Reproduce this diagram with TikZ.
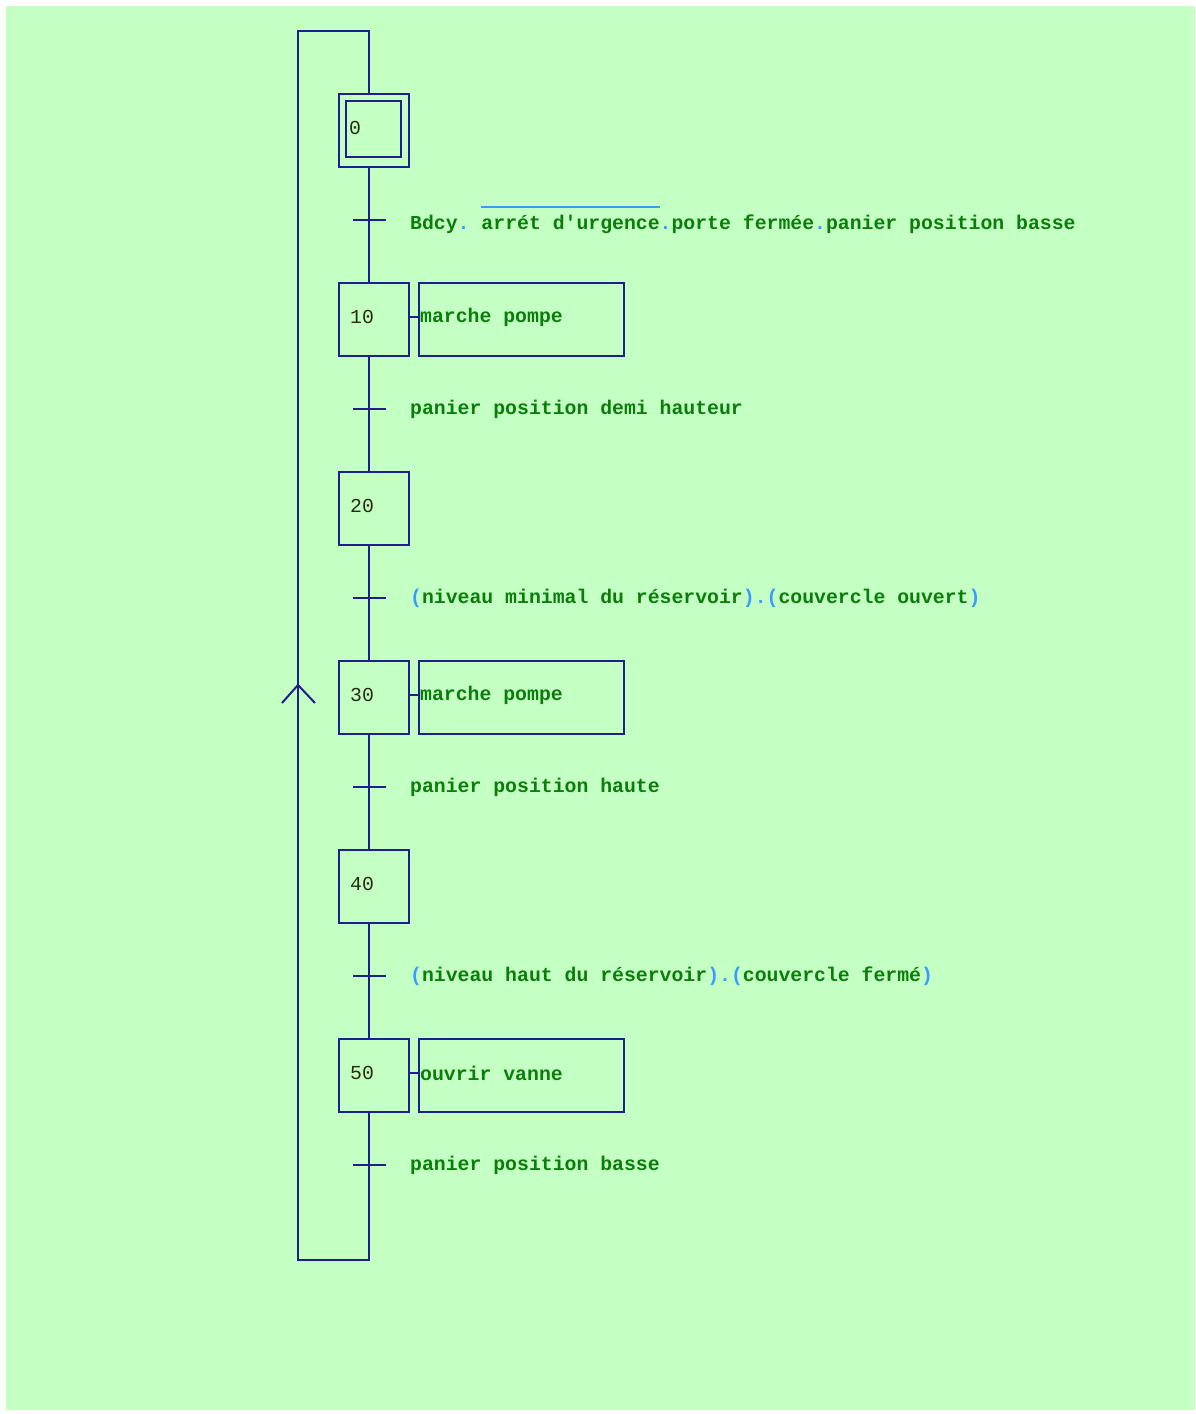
\documentclass[tikz,border=0pt]{standalone}
\usepackage{fontspec}
\setmonofont{Liberation Mono}
\usepackage{xcolor}
\usepackage{tikz}
\usetikzlibrary{positioning}

\definecolor{fond}{HTML}{C4FFC4}
\definecolor{trait}{HTML}{1E1E8C}
\definecolor{vert}{HTML}{0A7D0A}
\definecolor{bleu}{HTML}{3A9BFF}
\definecolor{num}{HTML}{2A2A10}

\newcommand{\pt}{\textcolor{bleu}{.}}
\newcommand{\po}{\textcolor{bleu}{(}}
\newcommand{\pf}{\textcolor{bleu}{)}}
\newcommand{\barre}[1]{\setbox0\hbox{#1}\rlap{\textcolor{bleu}{\rule[21pt]{\wd0}{2pt}}}\box0}

\begin{document}
\begin{tikzpicture}[x=1pt, y=-1pt, line cap=butt, line join=miter,
		lien/.style={draw=trait, line width=2pt},
		etape/.style={draw=trait, line width=2pt, rectangle, minimum width=70pt, minimum height=73pt, inner sep=0pt},
		action/.style={draw=trait, line width=2pt, rectangle, minimum width=205pt, minimum height=73pt, inner sep=0pt},
		txt/.style={font=\ttfamily\bfseries\fontsize{19.8}{22}\selectfont, text=vert, inner sep=0pt, anchor=west},
		numero/.style={font=\ttfamily\fontsize{19.8}{22}\selectfont, text=num, inner sep=0pt, anchor=west}]

		% fond
		\useasboundingbox (0,0) rectangle (1195,1414);
		\fill[white] (0,0) rectangle (1195,1414);
		\fill[fond] (6,6) rectangle (1195,1410);

		% etapes
		\node[etape] (s0) at (374,130.5) {};
		\node[draw=trait, line width=2pt, minimum width=55pt, minimum height=56pt, inner sep=0pt] (s0i) at (373.5,129) {};
		\node[numero, right=4pt of s0i.west, yshift=1pt] (n0) {0};

		\node[etape] (s10) at (374,319.5) {};
		\node[numero, right=12pt of s10.west, yshift=3pt] (n10) {10};
		\node[action] (a10) at (521.5,319.5) {};
		\node[txt, right=2pt of a10.west, yshift=2pt] (ta10) {marche pompe};

		\node[etape] (s20) at (374,508.5) {};
		\node[numero, right=12pt of s20.west, yshift=3pt] (n20) {20};

		\node[etape] (s30) at (374,697.5) {};
		\node[numero, right=12pt of s30.west, yshift=3pt] (n30) {30};
		\node[action] (a30) at (521.5,697.5) {};
		\node[txt, right=2pt of a30.west, yshift=2pt] (ta30) {marche pompe};

		\node[etape] (s40) at (374,886.5) {};
		\node[numero, right=12pt of s40.west, yshift=3pt] (n40) {40};

		\node[etape] (s50) at (374,1075.5) {};
		\node[numero, right=12pt of s50.west, yshift=3pt] (n50) {50};
		\node[action] (a50) at (521.5,1075.5) {};
		\node[txt, right=2pt of a50.west, yshift=2pt] (ta50) {ouvrir vanne};

		% transitions
		\coordinate (t1) at (369,220);
		\coordinate (t2) at (369,409);
		\coordinate (t3) at (369,598);
		\coordinate (t4) at (369,787);
		\coordinate (t5) at (369,976);
		\coordinate (t6) at (369,1165);
		\coordinate (bas) at (369,1260);
		\coordinate (basg) at (298,1260);
		\coordinate (haut) at (369,31);
		\coordinate (hautg) at (298,31);
		\coordinate (fl) at (298,685);

		\draw[lien] (s0.south -| t1) -- (s10.north -| t1);
		\draw[lien] (s10.south -| t1) -- (s20.north -| t1);
		\draw[lien] (s20.south -| t1) -- (s30.north -| t1);
		\draw[lien] (s30.south -| t1) -- (s40.north -| t1);
		\draw[lien] (s40.south -| t1) -- (s50.north -| t1);
		\draw[lien] (s50.south -| t1) -- (bas) -- (basg) -- (hautg) -- (haut) -- (s0.north -| t1);
		\draw[lien] (fl) ++(-16,18) -- (fl) -- ++(17,18);

		\draw[lien] (s10.east |- a10.west) ++(0,-3) -- ++(10,0);
		\draw[lien] (s30.east |- a30.west) ++(0,-3) -- ++(10,0);
		\draw[lien] (s50.east |- a50.west) ++(0,-3) -- ++(10,0);

		\foreach \t in {t1,t2,t3,t4,t5,t6}
			\draw[lien] (\t) ++(-16,0) -- ++(33,0);

		% receptivites
		\node[txt] (r1) at (410,220) {Bdcy\pt{} \barre{arrét d'urgence}\pt porte fermée\pt panier position basse};
		\node[txt] (r2) at (410,409) {panier position demi hauteur};
		\node[txt] (r3) at (410,598) {\po niveau minimal du réservoir\pf\pt\po couvercle ouvert\pf};
		\node[txt] (r4) at (410,787) {panier position haute};
		\node[txt] (r5) at (410,976) {\po niveau haut du réservoir\pf\pt\po couvercle fermé\pf};
		\node[txt] (r6) at (410,1165) {panier position basse};
	\end{tikzpicture}
\end{document}
